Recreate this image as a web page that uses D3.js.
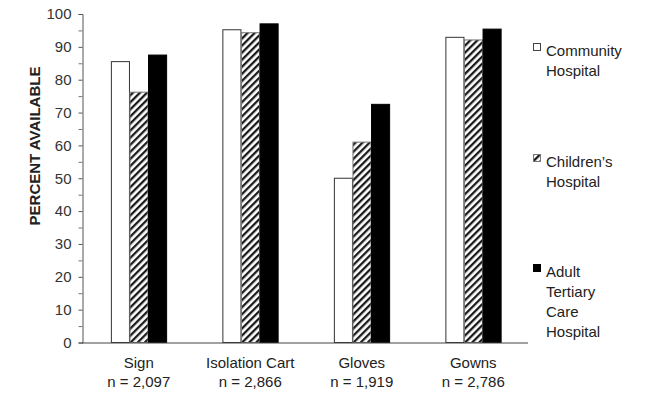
<!DOCTYPE html>
<html>
<head>
<meta charset="utf-8">
<script src="https://cdn.jsdelivr.net/npm/d3@7"></script>
<style>
  html, body { margin: 0; padding: 0; background: #fff; }
  svg { display: block; font-family: "Liberation Sans", Arial, sans-serif; }
</style>
</head>
<body>
<svg id="chart" width="649" height="394"></svg>
<script>
// Supplies categories and sample sizes
const categories = ["Sign", "Isolation Cart", "Gloves", "Gowns"];
const sampleSizes = ["n = 2,097", "n = 2,866", "n = 1,919", "n = 2,786"];

// Hospital series
const seriesNames = ["Community", "Childrens", "Adult"];
const communityValues = [85.5, 95.2, 50.0, 92.9];
const childrensValues = [76.2, 94.3, 61.0, 92.1];
const adultValues = [87.5, 97.0, 72.5, 95.4];

// Legend labels (one entry per series, split into lines)
const legendLabels = [
  ["Community", "Hospital"],
  ["Children\u2019s", "Hospital"],
  ["Adult", "Tertiary", "Care", "Hospital"]
];

const yTicks = [0, 10, 20, 30, 40, 50, 60, 70, 80, 90, 100];
const yMinorTicks = [5, 15, 25, 35, 45, 55, 65, 75, 85, 95];

const seriesValues = [communityValues, childrensValues, adultValues];

const svg = d3.select("#chart");

const y = d3.scaleLinear().domain([0, 100]).range([342.5, 14]);
const x0 = d3.scaleBand().domain(categories).range([83, 529])
  .paddingInner(0.5).paddingOuter(0.25);
const x1 = d3.scaleBand().domain(seriesNames).range([0, x0.bandwidth()]);

// Diagonal hatch for the children's hospital series
const defs = svg.append("defs");
const pat = defs.append("pattern")
  .attr("id", "hatch")
  .attr("patternUnits", "userSpaceOnUse")
  .attr("width", 5).attr("height", 5)
  .attr("patternTransform", "rotate(45)");
pat.append("rect").attr("width", 5).attr("height", 5).attr("fill", "#fff");
pat.append("rect").attr("x", 0).attr("width", 2.3).attr("height", 5).attr("fill", "#1a1a1a");

const fills = { Community: "#fff", Childrens: "url(#hatch)", Adult: "#000" };
const strokes = { Community: "#333", Childrens: "#777", Adult: "#000" };

// Bars
const groups = svg.append("g").selectAll("g")
  .data(categories)
  .join("g")
  .attr("transform", d => `translate(${x0(d)},0)`);

groups.selectAll("rect")
  .data((d, i) => seriesNames.map((s, k) => ({ s, v: seriesValues[k][i] })))
  .join("rect")
  .attr("x", d => x1(d.s) + 0.5)
  .attr("width", x1.bandwidth() - 0.5)
  .attr("y", d => y(d.v))
  .attr("height", d => y(0) - y(d.v))
  .attr("fill", d => fills[d.s])
  .attr("stroke", d => strokes[d.s])
  .attr("stroke-width", 1);

// Y axis
const yAxis = d3.axisLeft(y).tickValues(yTicks).tickSize(4).tickPadding(7);
const gy = svg.append("g").attr("transform", "translate(82.5,0)").call(yAxis);
gy.select(".domain").attr("stroke", "#555");
gy.selectAll(".tick line").attr("stroke", "#555");
gy.selectAll(".tick text")
  .attr("font-size", 15)
  .attr("fill", "#333")
  .attr("font-family", "Liberation Sans, Arial, sans-serif");

const gyMinor = svg.append("g").attr("transform", "translate(82.5,0)")
  .call(d3.axisLeft(y).tickValues(yMinorTicks).tickSize(4).tickFormat(""));
gyMinor.select(".domain").remove();
gyMinor.selectAll(".tick line").attr("stroke", "#777");

// X axis baseline
svg.append("line")
  .attr("x1", 82).attr("x2", 528)
  .attr("y1", y(0) + 0.5).attr("y2", y(0) + 0.5)
  .attr("stroke", "#444").attr("stroke-width", 1);

// Category labels
const catLabels = svg.append("g").selectAll("text")
  .data(categories)
  .join("text")
  .attr("text-anchor", "middle")
  .attr("font-size", 15)
  .attr("fill", "#222")
  .attr("x", d => x0(d) + x0.bandwidth() / 2)
  .attr("y", 368);
catLabels.append("tspan").text(d => d);
catLabels.append("tspan")
  .attr("x", d => x0(d) + x0.bandwidth() / 2)
  .attr("dy", 19)
  .text((d, i) => sampleSizes[i]);

// Y axis title
svg.append("text")
  .attr("transform", "translate(40,146) rotate(-90)")
  .attr("text-anchor", "middle")
  .attr("font-size", 15)
  .attr("font-weight", "bold")
  .attr("fill", "#222")
  .text("PERCENT AVAILABLE");

// Legend
const legendTop = [56, 167, 277];
const legend = svg.append("g").selectAll("g")
  .data(seriesNames)
  .join("g");
legend.append("rect")
  .attr("x", 533.5)
  .attr("y", (d, i) => legendTop[i] - 12.5)
  .attr("width", 7).attr("height", 7)
  .attr("fill", d => fills[d])
  .attr("stroke", d => d === "Community" ? "#444" : (d === "Childrens" ? "#777" : "#000"));
legend.each(function (d, i) {
  const t = d3.select(this).append("text")
    .attr("font-size", 15)
    .attr("fill", "#222");
  legendLabels[i].forEach((line, j) => {
    t.append("tspan")
      .attr("x", 546)
      .attr("y", legendTop[i] + j * 20)
      .text(line);
  });
});
</script>
</body>
</html>
